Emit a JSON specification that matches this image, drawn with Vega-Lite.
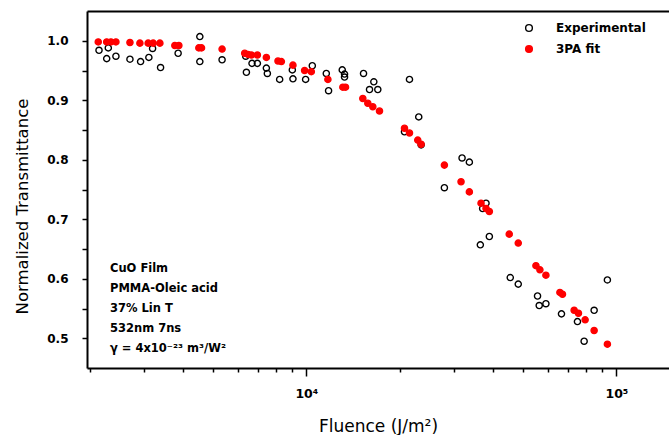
{
  "$schema": "https://vega.github.io/schema/vega-lite/v6.json",
  "width": 582,
  "height": 357,
  "autosize": {"type": "none"},
  "padding": {"left": 87, "top": 11, "right": 0, "bottom": 67},
  "background": "white",
  "config": {"view": {"stroke": null}, "font": "DejaVu Sans"},
  "layer": [
    {
      "data": {
        "values": [
          {"series": "Experimental", "fluence": 2145, "t": 0.984},
          {"series": "Experimental", "fluence": 2271, "t": 0.970},
          {"series": "Experimental", "fluence": 2298, "t": 0.988},
          {"series": "Experimental", "fluence": 2432, "t": 0.974},
          {"series": "Experimental", "fluence": 2699, "t": 0.969},
          {"series": "Experimental", "fluence": 2921, "t": 0.965},
          {"series": "Experimental", "fluence": 3106, "t": 0.972},
          {"series": "Experimental", "fluence": 3193, "t": 0.987},
          {"series": "Experimental", "fluence": 3388, "t": 0.955},
          {"series": "Experimental", "fluence": 3860, "t": 0.979},
          {"series": "Experimental", "fluence": 4535, "t": 1.007},
          {"series": "Experimental", "fluence": 4535, "t": 0.965},
          {"series": "Experimental", "fluence": 5350, "t": 0.968},
          {"series": "Experimental", "fluence": 6376, "t": 0.974},
          {"series": "Experimental", "fluence": 6409, "t": 0.947},
          {"series": "Experimental", "fluence": 6681, "t": 0.962},
          {"series": "Experimental", "fluence": 6953, "t": 0.962},
          {"series": "Experimental", "fluence": 7433, "t": 0.954},
          {"series": "Experimental", "fluence": 7488, "t": 0.945},
          {"series": "Experimental", "fluence": 8204, "t": 0.935},
          {"series": "Experimental", "fluence": 9013, "t": 0.951},
          {"series": "Experimental", "fluence": 9055, "t": 0.936},
          {"series": "Experimental", "fluence": 9948, "t": 0.935},
          {"series": "Experimental", "fluence": 10455, "t": 0.958},
          {"series": "Experimental", "fluence": 11600, "t": 0.945},
          {"series": "Experimental", "fluence": 11797, "t": 0.916},
          {"series": "Experimental", "fluence": 13058, "t": 0.951},
          {"series": "Experimental", "fluence": 13282, "t": 0.944},
          {"series": "Experimental", "fluence": 13282, "t": 0.939},
          {"series": "Experimental", "fluence": 15294, "t": 0.945},
          {"series": "Experimental", "fluence": 16508, "t": 0.931},
          {"series": "Experimental", "fluence": 15990, "t": 0.918},
          {"series": "Experimental", "fluence": 17004, "t": 0.918},
          {"series": "Experimental", "fluence": 21513, "t": 0.935},
          {"series": "Experimental", "fluence": 23047, "t": 0.872},
          {"series": "Experimental", "fluence": 20731, "t": 0.847},
          {"series": "Experimental", "fluence": 23460, "t": 0.825},
          {"series": "Experimental", "fluence": 31790, "t": 0.803},
          {"series": "Experimental", "fluence": 33560, "t": 0.796},
          {"series": "Experimental", "fluence": 27880, "t": 0.753},
          {"series": "Experimental", "fluence": 37980, "t": 0.727},
          {"series": "Experimental", "fluence": 37040, "t": 0.718},
          {"series": "Experimental", "fluence": 38930, "t": 0.671},
          {"series": "Experimental", "fluence": 36410, "t": 0.657},
          {"series": "Experimental", "fluence": 45470, "t": 0.602},
          {"series": "Experimental", "fluence": 48250, "t": 0.591},
          {"series": "Experimental", "fluence": 55680, "t": 0.571},
          {"series": "Experimental", "fluence": 56380, "t": 0.555},
          {"series": "Experimental", "fluence": 59250, "t": 0.558},
          {"series": "Experimental", "fluence": 66520, "t": 0.541},
          {"series": "Experimental", "fluence": 74890, "t": 0.528},
          {"series": "Experimental", "fluence": 84770, "t": 0.547},
          {"series": "Experimental", "fluence": 93540, "t": 0.598},
          {"series": "Experimental", "fluence": 78700, "t": 0.495},
          {"series": "3PA fit", "fluence": 2133, "t": 0.998},
          {"series": "3PA fit", "fluence": 2271, "t": 0.998},
          {"series": "3PA fit", "fluence": 2344, "t": 0.998},
          {"series": "3PA fit", "fluence": 2432, "t": 0.998},
          {"series": "3PA fit", "fluence": 2699, "t": 0.997},
          {"series": "3PA fit", "fluence": 2906, "t": 0.996},
          {"series": "3PA fit", "fluence": 3090, "t": 0.996},
          {"series": "3PA fit", "fluence": 3207, "t": 0.996},
          {"series": "3PA fit", "fluence": 3371, "t": 0.996},
          {"series": "3PA fit", "fluence": 3767, "t": 0.992},
          {"series": "3PA fit", "fluence": 3881, "t": 0.992},
          {"series": "3PA fit", "fluence": 4502, "t": 0.988},
          {"series": "3PA fit", "fluence": 4592, "t": 0.988},
          {"series": "3PA fit", "fluence": 5350, "t": 0.986},
          {"series": "3PA fit", "fluence": 6328, "t": 0.979},
          {"series": "3PA fit", "fluence": 6486, "t": 0.977},
          {"series": "3PA fit", "fluence": 6651, "t": 0.976},
          {"series": "3PA fit", "fluence": 6953, "t": 0.976},
          {"series": "3PA fit", "fluence": 7433, "t": 0.972},
          {"series": "3PA fit", "fluence": 8103, "t": 0.966},
          {"series": "3PA fit", "fluence": 8309, "t": 0.965},
          {"series": "3PA fit", "fluence": 9055, "t": 0.959},
          {"series": "3PA fit", "fluence": 9874, "t": 0.950},
          {"series": "3PA fit", "fluence": 10378, "t": 0.948},
          {"series": "3PA fit", "fluence": 11737, "t": 0.935},
          {"series": "3PA fit", "fluence": 13116, "t": 0.922},
          {"series": "3PA fit", "fluence": 13380, "t": 0.922},
          {"series": "3PA fit", "fluence": 15213, "t": 0.903},
          {"series": "3PA fit", "fluence": 15788, "t": 0.895},
          {"series": "3PA fit", "fluence": 16386, "t": 0.889},
          {"series": "3PA fit", "fluence": 17219, "t": 0.882},
          {"series": "3PA fit", "fluence": 20731, "t": 0.853},
          {"series": "3PA fit", "fluence": 21513, "t": 0.845},
          {"series": "3PA fit", "fluence": 22877, "t": 0.833},
          {"series": "3PA fit", "fluence": 23460, "t": 0.826},
          {"series": "3PA fit", "fluence": 27880, "t": 0.791},
          {"series": "3PA fit", "fluence": 31550, "t": 0.763},
          {"series": "3PA fit", "fluence": 33560, "t": 0.746},
          {"series": "3PA fit", "fluence": 36600, "t": 0.727},
          {"series": "3PA fit", "fluence": 37980, "t": 0.718},
          {"series": "3PA fit", "fluence": 38930, "t": 0.713},
          {"series": "3PA fit", "fluence": 45130, "t": 0.675},
          {"series": "3PA fit", "fluence": 48250, "t": 0.660},
          {"series": "3PA fit", "fluence": 55020, "t": 0.622},
          {"series": "3PA fit", "fluence": 56670, "t": 0.615},
          {"series": "3PA fit", "fluence": 59250, "t": 0.606},
          {"series": "3PA fit", "fluence": 65740, "t": 0.577},
          {"series": "3PA fit", "fluence": 67010, "t": 0.574},
          {"series": "3PA fit", "fluence": 73080, "t": 0.547},
          {"series": "3PA fit", "fluence": 75450, "t": 0.542},
          {"series": "3PA fit", "fluence": 79290, "t": 0.531},
          {"series": "3PA fit", "fluence": 84770, "t": 0.513},
          {"series": "3PA fit", "fluence": 93540, "t": 0.490}
        ]
      },
      "mark": {"type": "point", "shape": "circle", "size": 38, "strokeWidth": 1.4, "opacity": 1},
      "encoding": {
        "x": {
          "field": "fluence",
          "type": "quantitative",
          "scale": {"type": "log", "domain": [1962, 147800], "nice": false, "zero": false},
          "axis": {
            "orient": "bottom",
            "values": [2000, 3000, 4000, 5000, 6000, 7000, 8000, 9000, 10000, 20000, 30000, 40000, 50000, 60000, 70000, 80000, 90000, 100000],
            "labelExpr": "datum.value == 10000 ? '10⁴' : (datum.value == 100000 ? '10⁵' : '')",
            "grid": false,
            "domainColor": "black",
            "domainWidth": 2,
            "tickColor": "black",
            "tickWidth": 1.5,
            "tickSize": {"condition": {"test": "datum.value == 10000 || datum.value == 100000", "value": 8}, "value": 4},
            "labelFont": "DejaVu Sans",
            "labelFontWeight": "bold",
            "labelFontSize": 12.5,
            "labelColor": "black",
            "labelPadding": 11,
            "labelFlush": false,
            "labelOverlap": false,
            "title": "Fluence (J/m²)",
            "titleFont": "DejaVu Sans",
            "titleFontWeight": "normal",
            "titleFontSize": 17,
            "titleColor": "black",
            "titleX": 291,
            "titleY": 63,
            "titleAlign": "center",
            "titleBaseline": "alphabetic"
          }
        },
        "y": {
          "field": "t",
          "type": "quantitative",
          "scale": {"domain": [0.45, 1.05], "nice": false, "zero": false},
          "axis": {
            "values": [0.5, 0.55, 0.6, 0.65, 0.7, 0.75, 0.8, 0.85, 0.9, 0.95, 1.0],
            "labelExpr": "round(datum.value*100) % 10 == 0 ? format(datum.value, '.1f') : ''",
            "grid": false,
            "domainColor": "black",
            "domainWidth": 2,
            "tickColor": "black",
            "tickWidth": 1.5,
            "tickSize": 5,
            "labelFont": "DejaVu Sans",
            "labelFontWeight": "bold",
            "labelFontSize": 12,
            "labelColor": "black",
            "labelPadding": 14,
            "labelOverlap": false,
            "labelFlush": false,
            "title": "Normalized Transmittance",
            "titleFont": "DejaVu Sans",
            "titleFontWeight": "normal",
            "titleFontSize": 16.5,
            "titleColor": "black",
            "titleX": -60,
            "titleY": 195,
            "titleAngle": 270,
            "titleAlign": "center",
            "titleBaseline": "alphabetic"
          }
        },
        "stroke": {
          "field": "series",
          "type": "nominal",
          "scale": {"domain": ["Experimental", "3PA fit"], "range": ["black", "red"]},
          "legend": {
            "orient": "none",
            "legendX": 436,
            "legendY": 11,
            "title": null,
            "padding": 0,
            "labelFont": "DejaVu Sans",
            "labelFontWeight": "bold",
            "labelFontSize": 12,
            "labelColor": "black",
            "labelOffset": 21,
            "rowPadding": 7,
            "symbolSize": 45,
            "symbolStrokeWidth": 1.4,
            "symbolType": "circle"
          }
        },
        "fill": {
          "field": "series",
          "type": "nominal",
          "scale": {"domain": ["Experimental", "3PA fit"], "range": ["transparent", "red"]},
          "legend": {
            "orient": "none",
            "legendX": 436,
            "legendY": 11,
            "title": null,
            "padding": 0,
            "labelFont": "DejaVu Sans",
            "labelFontWeight": "bold",
            "labelFontSize": 12,
            "labelColor": "black",
            "labelOffset": 21,
            "rowPadding": 7,
            "symbolSize": 45,
            "symbolStrokeWidth": 1.4,
            "symbolType": "circle"
          }
        }
      }
    },
    {
      "data": {"values": [{"note": "conditions"}]},
      "mark": {
        "type": "text",
        "text": ["CuO Film", "PMMA-Oleic acid", "37% Lin T", "532nm 7ns", "γ = 4x10⁻²³ m³/W²"],
        "align": "left",
        "baseline": "alphabetic",
        "font": "DejaVu Sans",
        "fontWeight": "bold",
        "fontSize": 11.5,
        "lineHeight": 20,
        "color": "black"
      },
      "encoding": {
        "x": {
          "datum": 2327,
          "type": "quantitative",
          "axis": {"orient": "top", "labels": false, "ticks": false, "grid": false, "domain": true, "domainColor": "black", "domainWidth": 2, "title": null}
        },
        "y": {"datum": 0.611, "type": "quantitative", "axis": null}
      }
    }
  ],
  "resolve": {"axis": {"x": "independent", "y": "independent"}}
}
